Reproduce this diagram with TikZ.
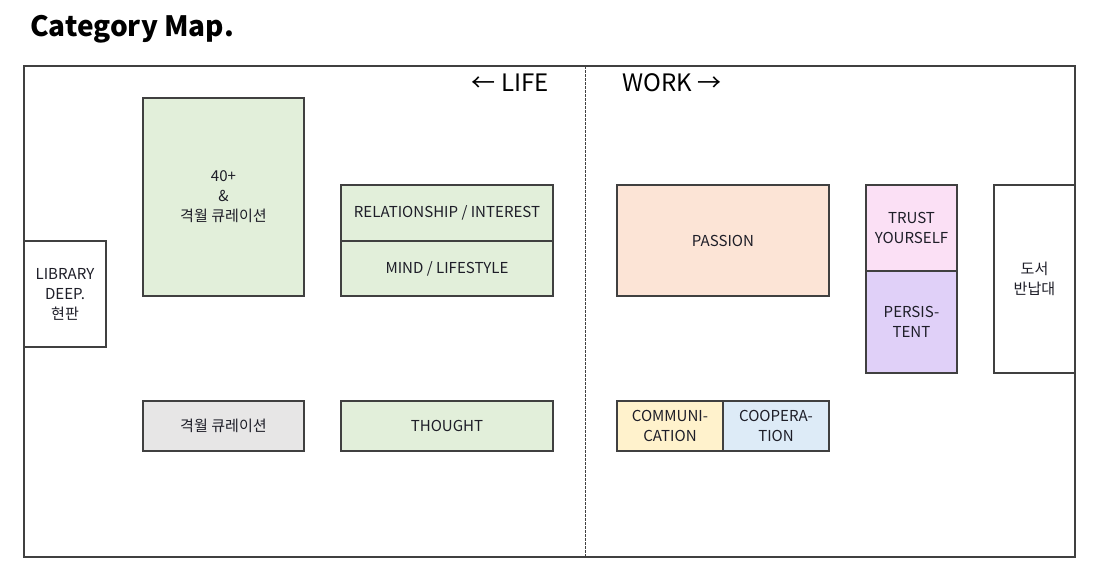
\documentclass[tikz,border=0pt]{standalone}
\usepackage{fontspec}
\setmainfont{Noto Sans CJK KR}
\definecolor{edge}{HTML}{404040}
\definecolor{green}{HTML}{E2EFDA}
\definecolor{grayf}{HTML}{E7E6E6}
\definecolor{peach}{HTML}{FCE4D6}
\definecolor{pink}{HTML}{FBE0F5}
\definecolor{lav}{HTML}{E0D0F8}
\definecolor{yel}{HTML}{FFF2CC}
\definecolor{blu}{HTML}{DDEBF7}
\definecolor{txt}{HTML}{1E1E28}
\begin{document}
\begin{tikzpicture}[x=0.75pt,y=-0.75pt,
  cell/.style={draw=edge, line width=0.8pt, rectangle, inner sep=0pt, outer sep=0pt,
    align=center, font=\fontsize{11.3}{15}\selectfont, text=txt},
  head/.style={font=\fontsize{18}{21}\selectfont, text=black, inner sep=0pt}]
\useasboundingbox (0,0) rectangle (1100,583);
\node[anchor=base west, inner sep=0pt, font=\fontsize{21}{25}\selectfont\bfseries] (title) at (30,36) {Category Map.};
\draw[edge, line width=0.8pt] (24,66) rectangle (1075,557);
\coordinate (dtop) at (585,66);
\coordinate (dbot) at (585,557);
\draw[edge, dashed, dash pattern=on 2pt off 1pt, line width=0.6pt] (dtop) -- (dbot);
\node[head, anchor=east] (life) at (549,83) {← LIFE};
\node[head, anchor=west] (work) at (622,83) {WORK →};

\node[cell, fill=white, minimum width=61.5pt, minimum height=79.5pt] (lib) at (65,294) {LIBRARY\\DEEP.\\현판};
\node[cell, fill=green, minimum width=120.75pt, minimum height=148.5pt] (b40) at (223.5,197) {40+\\\&\\격월 큐레이션};
\node[cell, fill=green, minimum width=159pt, minimum height=42pt] (rel) at (447,213) {RELATIONSHIP / INTEREST};
\node[cell, fill=green, minimum width=159pt, minimum height=41.25pt] (mind) at (447,268.5) {MIND / LIFESTYLE};
\node[cell, fill=grayf, minimum width=120.75pt, minimum height=37.5pt] (gw) at (223.5,426) {격월 큐레이션};
\node[cell, fill=green, minimum width=159pt, minimum height=37.5pt] (thought) at (447,426) {THOUGHT};
\node[cell, fill=peach, minimum width=159pt, minimum height=83.25pt] (passion) at (723,240.5) {PASSION};
\node[cell, fill=pink, minimum width=68.25pt, minimum height=64.5pt] (trust) at (911.5,228) {TRUST\\YOURSELF};
\node[cell, fill=lav, minimum width=68.25pt, minimum height=76.5pt] (pers) at (911.5,322) {PERSIS-\\TENT};
\node[cell, fill=white, minimum width=60.75pt, minimum height=141pt] (ret) at (1034.5,279) {도서\\반납대};
\node[cell, fill=yel, minimum width=79.5pt, minimum height=37.5pt] (comm) at (670,426) {COMMUNI-\\CATION};
\node[cell, fill=blu, minimum width=79.5pt, minimum height=37.5pt] (coop) at (776,426) {COOPERA-\\TION};
\end{tikzpicture}
\end{document}
